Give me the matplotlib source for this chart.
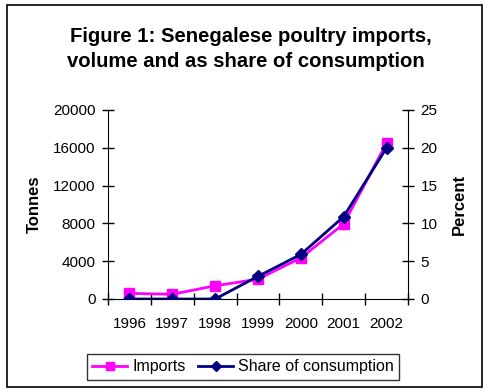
import matplotlib
matplotlib.use("Agg")
import matplotlib.pyplot as plt
from matplotlib.patches import Rectangle
from matplotlib.lines import Line2D

years = ["1996", "1997", "1998", "1999", "2000", "2001", "2002"]
imports_t = [600, 500, 1400, 2100, 4350, 7950, 16500]
share_pct = [0, 0, 0, 3.0, 5.9, 10.9, 20.0]

plt.rcParams['font.family'] = ['Liberation Sans', 'DejaVu Sans']

W, H = 488, 392
fig = plt.figure(figsize=(W / 100, H / 100), dpi=100)

# outer frame
fig.patches.append(Rectangle((7 / W, 1 - 387 / H), (482 - 7) / W, (387 - 5) / H,
                             transform=fig.transFigure, fill=False, ec='black', lw=1.2))

ax = fig.add_axes([108 / W, 1 - 299 / H, 300 / W, 189 / H])
ax2 = ax.twinx()

x = list(range(len(years)))
ax.plot(x, imports_t, color='#ff00ff', lw=2, marker='s', ms=7.5, zorder=3)
ax2.plot(x, share_pct, color='#000080', lw=2, marker='D', ms=6, zorder=4)

ax.set_xlim(-0.5, 6.5)
ax.set_ylim(0, 20000)
ax2.set_ylim(0, 25)
ax.set_yticks(range(0, 20001, 4000))
ax2.set_yticks(range(0, 26, 5))
ax.set_xticks([i - 0.5 for i in range(8)], minor=False)
ax.set_xticklabels([])
ax.set_xticks(x, minor=True)
ax.set_xticklabels(years, minor=True)
ax.tick_params(axis='x', which='minor', length=0, pad=13, labelsize=11)
ax.tick_params(axis='x', which='major', direction='inout', length=8, width=1)
ax.tick_params(axis='y', direction='inout', length=8, width=1, labelsize=11, pad=5)
ax2.tick_params(axis='y', direction='inout', length=8, width=1, labelsize=11, pad=5)

for a in (ax, ax2):
    a.spines['top'].set_visible(False)
    a.patch.set_visible(False)
ax.spines['right'].set_visible(False)
ax2.spines['left'].set_visible(False)
ax2.spines['bottom'].set_visible(False)

ax.set_ylabel("Tonnes", fontsize=12, fontweight='bold', labelpad=8)
ax2.set_ylabel("Percent", fontsize=12, fontweight='bold', labelpad=10)

fig.text(251 / W, 1 - 42 / H, "Figure 1: Senegalese poultry imports,", ha='center', va='baseline',
         fontsize=14.6, fontweight='bold')
fig.text(246 / W, 1 - 67 / H, "volume and as share of consumption", ha='center', va='baseline',
         fontsize=14.6, fontweight='bold')

handles = [Line2D([], [], color='#ff00ff', lw=2, marker='s', ms=6),
           Line2D([], [], color='#000080', lw=2, marker='D', ms=5)]
leg = fig.legend(handles, ["Imports", "Share of consumption"], loc='center',
                 bbox_to_anchor=(243 / W, 1 - 367 / H), ncol=2, fontsize=11.5,
                 frameon=True, fancybox=False, edgecolor='black', handlelength=2.2,
                 handletextpad=0.3, columnspacing=0.8, borderpad=0.35)
leg.get_frame().set_linewidth(1)

fig.savefig("out.png", dpi=100)
